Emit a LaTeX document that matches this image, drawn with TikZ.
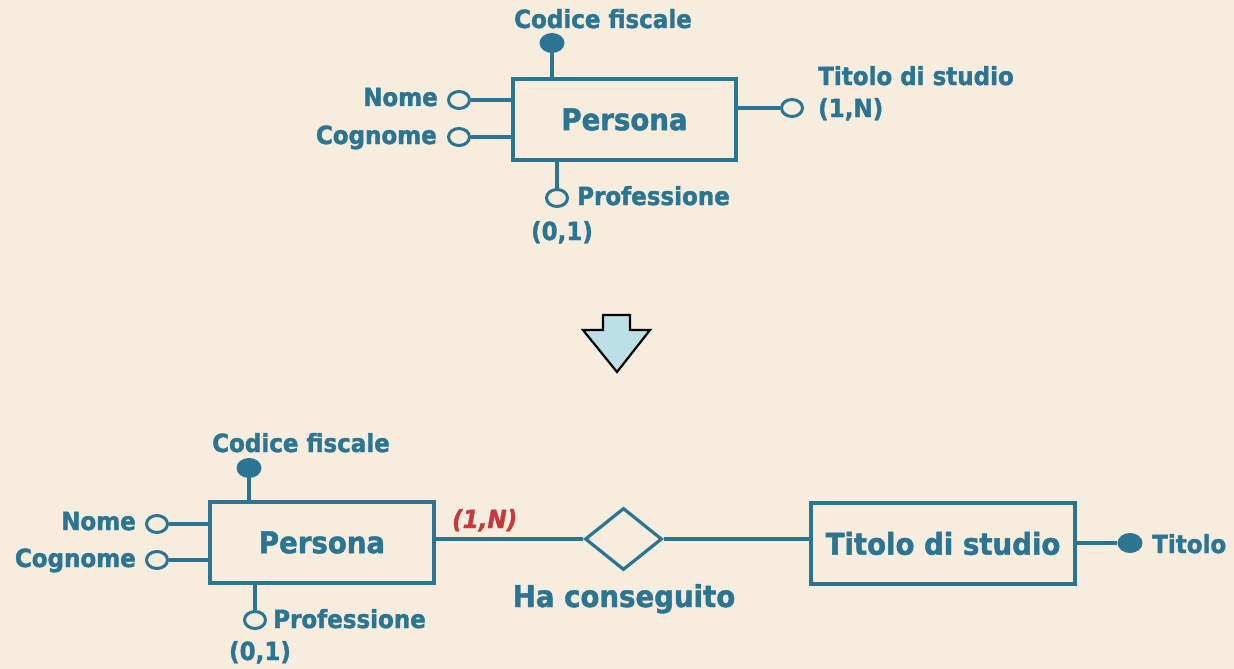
\documentclass[tikz,border=0pt]{standalone}
\usepackage{fontspec}
\setmainfont{DejaVu Sans}[FakeStretch=0.92, BoldFeatures={FakeBold=1.5}, BoldItalicFeatures={FakeBold=1.5}]
\usetikzlibrary{shapes.geometric}
\definecolor{erblue}{HTML}{2B7593}
\definecolor{bgcol}{HTML}{F6EDDF}
\definecolor{cardred}{HTML}{C8383A}
\definecolor{arrowfill}{HTML}{BDE0E6}
\begin{document}
\begin{tikzpicture}[x=1pt,y=-1pt,
  ent/.style={draw=erblue, line width=3.2pt, text=erblue, font=\fontsize{30}{32}\selectfont\bfseries, inner sep=0pt},
  rel/.style={draw=erblue, line width=3.2pt, shape=diamond, inner sep=0pt, minimum width=77pt, minimum height=62pt},
  attr/.style={draw=erblue, line width=3pt, fill=bgcol, shape=ellipse, inner sep=0pt, minimum width=21pt, minimum height=17pt},
  keyattr/.style={fill=erblue, shape=ellipse, inner sep=0pt, minimum width=25pt, minimum height=20pt},
  lbl/.style={text=erblue, font=\fontsize{25}{27}\selectfont\bfseries, inner sep=0pt},
  biglbl/.style={text=erblue, font=\fontsize{30}{32}\selectfont\bfseries, inner sep=0pt},
  cardlbl/.style={text=cardred, font=\fontsize{25}{27}\selectfont\bfseries\itshape, inner sep=0pt},
  conn/.style={draw=erblue, line width=3.2pt}]
\fill[bgcol] (0,0) rectangle (1234,669);
\useasboundingbox (0,0) rectangle (1234,669);

% ---------- top diagram ----------
\node[ent, minimum width=223pt, minimum height=81pt] (p1) at (624.5,119.5) {Persona};
\node[keyattr] (k1) at (552,43) {};
\node[attr] (n1) at (459,100) {};
\node[attr] (c1) at (459,137) {};
\node[attr] (pr1) at (557,198) {};
\node[attr] (ts1) at (792,108) {};
\draw[conn] (k1) -- (k1 |- p1.north);
\draw[conn] (n1) -- (n1 -| p1.west);
\draw[conn] (c1) -- (c1 -| p1.west);
\draw[conn] (pr1) -- (pr1 |- p1.south);
\draw[conn] (ts1 -| p1.east) -- (ts1);
\node[lbl, anchor=base] (k1t) at (603,28) {Codice fiscale};
\node[lbl, anchor=base east] (n1t) at (438,106) {Nome};
\node[lbl, anchor=base east] (c1t) at (437,144) {Cognome};
\node[lbl, anchor=base west] (pr1t) at (577,205) {Professione};
\node[lbl, anchor=base] (pr1c) at (562,240) {(0,1)};
\node[lbl, anchor=base west] (ts1t) at (818,85) {Titolo di studio};
\node[lbl, anchor=base west] (ts1c) at (818,117) {(1,N)};

% ---------- arrow ----------
\coordinate (a1) at (603,315);
\coordinate (a2) at (630,315);
\coordinate (a3) at (630,330);
\coordinate (a4) at (650,330);
\coordinate (a5) at (617,372);
\coordinate (a6) at (583,330);
\coordinate (a7) at (603,330);
\draw[fill=arrowfill, draw=black, line width=2.2pt, line join=miter] (a1) -- (a2) -- (a3) -- (a4) -- (a5) -- (a6) -- (a7) -- cycle;

% ---------- bottom diagram ----------
\node[ent, minimum width=224pt, minimum height=81pt] (p2) at (322,542.5) {Persona};
\node[ent, minimum width=264pt, minimum height=81pt] (t2) at (943,543.5) {Titolo di studio};
\node[rel] (r) at (623.5,539) {};
\node[keyattr] (k2) at (249,468) {};
\node[attr] (n2) at (157,524) {};
\node[attr] (c2) at (157,560) {};
\node[attr] (pr2) at (255,620) {};
\node[keyattr] (tk) at (1130,543) {};
\draw[conn] (k2) -- (k2 |- p2.north);
\draw[conn] (n2) -- (n2 -| p2.west);
\draw[conn] (c2) -- (c2 -| p2.west);
\draw[conn] (pr2) -- (pr2 |- p2.south);
\draw[conn] (r.west -| p2.east) -- (r.west);
\draw[conn] (r.east) -- (r.east -| t2.west);
\draw[conn] (tk -| t2.east) -- (tk);
\node[lbl, anchor=base] (k2t) at (301,452) {Codice fiscale};
\node[lbl, anchor=base east] (n2t) at (136,530) {Nome};
\node[lbl, anchor=base east] (c2t) at (136,567) {Cognome};
\node[lbl, anchor=base west] (pr2t) at (273,628) {Professione};
\node[lbl, anchor=base] (pr2c) at (260,660) {(0,1)};
\node[cardlbl, anchor=base west] (rc) at (452,528) {(1,N)};
\node[biglbl, anchor=base] (rt) at (624,607) {Ha conseguito};
\node[lbl, anchor=base west] (tkt) at (1152,553) {Titolo};
\end{tikzpicture}
\end{document}
